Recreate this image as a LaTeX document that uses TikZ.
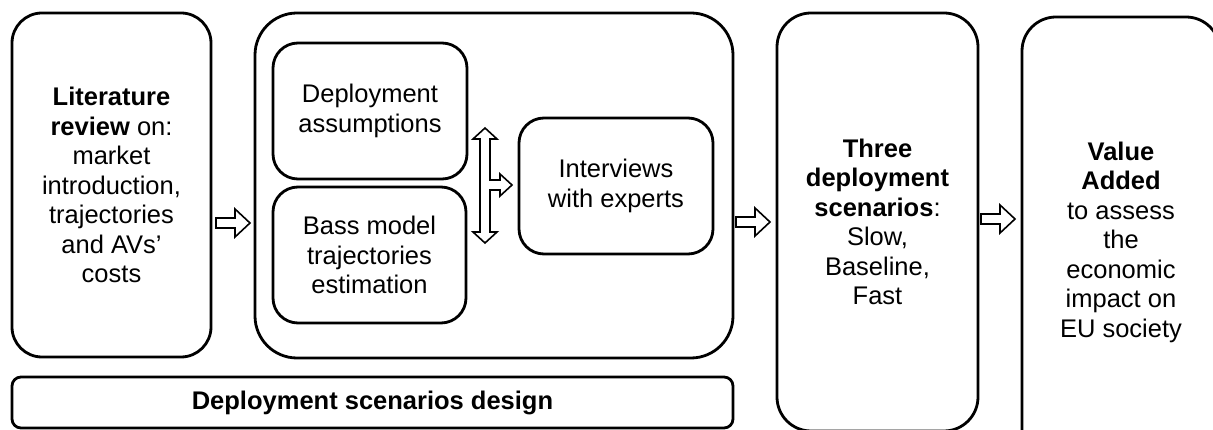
\documentclass[tikz,border=0pt]{standalone}
\usepackage{fontspec}
\setmainfont{Liberation Sans}
\begin{document}
\begin{tikzpicture}[x=1pt,y=-1pt,
  box/.style={draw=black, line width=2.8pt, rounded corners=#1, inner sep=0pt, align=center,
    font=\fontsize{25.5}{29.5}\selectfont},
  box/.default=30pt,
  barrow/.style={draw=black, line width=1.6pt, fill=white, line join=miter}]
\useasboundingbox (0,0) rectangle (1213,430);
% main boxes
\node[box=30pt, minimum width=199pt, minimum height=344pt] (lit) at (111.5,185)
  {\textbf{Literature}\\\textbf{review} on:\\market\\introduction,\\trajectories\\and AVs’\\costs};
\node[box=42pt, minimum width=478pt, minimum height=345pt] (big) at (494,185.5) {};
\node[box=25pt, minimum width=194pt, minimum height=136pt] (assum) at (370,111)
  {Deployment\\assumptions};
\node[box=25pt, minimum width=193pt, minimum height=136pt] (bass) at (369.5,255)
  {Bass model\\trajectories\\estimation};
\node[box=25pt, minimum width=194pt, minimum height=136pt] (inter) at (616,186)
  {Interviews\\with experts};
\node[box=9pt, minimum width=721pt, minimum height=51pt] (design) at (372.5,402.5)
  {\textbf{Deployment scenarios design}};
\node[box=34pt, minimum width=201pt, minimum height=418pt] (three) at (877.5,222)
  {\textbf{Three}\\\textbf{deployment}\\\textbf{scenarios}:\\Slow,\\Baseline,\\Fast};
\node[box=34pt, minimum width=198pt, minimum height=450pt] (value) at (1121,242)
  {\textbf{Value}\\\textbf{Added}\\to assess\\the\\economic\\impact on\\EU society};
% block arrows
\coordinate (a1) at (250,223);
\coordinate (a2) at (770,222);
\coordinate (a3) at (1015,219);
\foreach \c in {a1,a2,a3}{
  \draw[barrow, shift={(\c)}] (-34,-5) -- (-15,-5) -- (-15,-14) -- (0,0) -- (-15,14)
    -- (-15,5) -- (-34,5) -- cycle;
}
% double arrow with branch
\coordinate (dj) at (485,185);
\draw[barrow, shift={(dj)}] (0,-57) -- (12,-46) -- (5,-46) -- (5,-5) -- (15,-5) -- (15,-11)
  -- (27,0) -- (15,11) -- (15,5) -- (5,5) -- (5,47) -- (12,47) -- (0,58) -- (-12,47)
  -- (-5,47) -- (-5,-46) -- (-12,-46) -- cycle;
\end{tikzpicture}
\end{document}
